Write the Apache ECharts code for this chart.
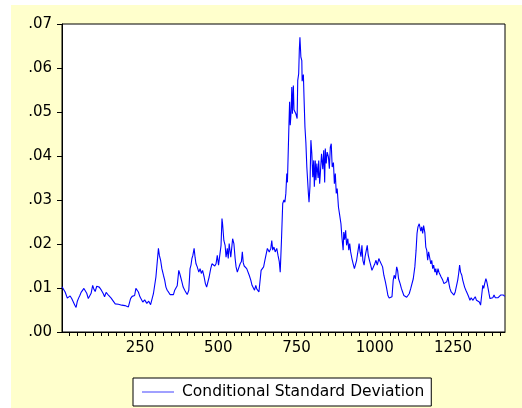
<!DOCTYPE html>
<html>
<head>
<meta charset="utf-8">
<script src="https://cdn.jsdelivr.net/npm/echarts@6/dist/echarts.min.js"></script>
<style>
html,body{margin:0;padding:0;background:#fff;}
#bg{position:absolute;left:11px;top:5px;width:511px;height:403px;background:#FFFFCC;}
#chart{position:absolute;left:0;top:0;width:522px;height:408px;}
</style>
</head>
<body>
<div id="bg"></div>
<div id="chart"></div>
<script>
const seriesName = 'Conditional Standard Deviation';
const xTickLabels = [250, 500, 750, 1000, 1250];
const yTickLabels = ['.00', '.01', '.02', '.03', '.04', '.05', '.06', '.07'];
const obsIndex = [1,3,11,18,27,32,37,42,46,50,54,58,62,66,71,75,80,85,90,94,99,103,107,112,117,120,125,129,133,137,142,146,150,154,158,163,167,171,176,181,186,192,197,202,208,213,216,220,225,229,233,237,241,245,250,256,259,261,265,272,278,284,288,293,298,301,305,309,312,316,320,325,329,333,337,342,346,351,357,361,365,369,374,377,380,384,388,393,397,401,406,410,413,416,419,423,426,429,433,438,442,446,450,455,459,463,467,471,476,480,484,489,493,497,501,506,509,512,514,518,522,525,529,532,535,540,543,546,550,554,557,561,565,570,574,577,580,583,588,591,596,599,604,608,612,616,620,623,626,630,633,637,641,645,649,653,657,660,663,668,671,674,678,682,687,691,695,698,702,706,710,713,716,719,721,724,726,728,730,732,734,735,737,738,740,742,745,748,752,754,757,759,761,764,767,768,772,774,777,780,783,788,790,793,796,799,802,805,807,810,812,815,819,821,824,827,830,834,837,840,842,845,848,852,855,858,861,864,868,871,874,877,880,884,887,889,892,895,899,901,904,907,910,914,917,920,923,927,931,935,938,942,946,950,953,956,959,962,966,969,972,976,979,983,987,991,995,1000,1004,1008,1013,1017,1021,1025,1029,1034,1038,1042,1046,1051,1055,1059,1062,1066,1070,1073,1076,1081,1085,1089,1093,1097,1102,1106,1110,1115,1119,1123,1128,1132,1135,1138,1142,1147,1150,1153,1156,1160,1163,1166,1169,1172,1176,1179,1182,1185,1188,1192,1195,1198,1202,1205,1209,1212,1217,1221,1225,1230,1234,1237,1240,1244,1249,1253,1257,1262,1265,1268,1271,1274,1278,1281,1284,1287,1291,1296,1300,1304,1308,1313,1317,1321,1325,1330,1334,1338,1341,1345,1348,1351,1355,1358,1362,1365,1368,1372,1377,1381,1385,1389,1394,1398,1402,1406,1411,1415];
const csd = [.0103,.0102,.0091,.0077,.0082,.0076,.0072,.0061,.0056,.0070,.0077,.0083,.0090,.0092,.0099,.0095,.0088,.0076,.0079,.0088,.0106,.0097,.0092,.0104,.0106,.0102,.0097,.0092,.0087,.0080,.0090,.0086,.0083,.0086,.0077,.0072,.0068,.0064,.0062,.0063,.0062,.0061,.0060,.0060,.0058,.0057,.0061,.0076,.0081,.0077,.0083,.0099,.0102,.0091,.0080,.0076,.0068,.0072,.0073,.0065,.0070,.0062,.0060,.0087,.0085,.0125,.0129,.0190,.0174,.0163,.0144,.0129,.0118,.0102,.0095,.0090,.0085,.0082,.0085,.0095,.0099,.0105,.0140,.0133,.0125,.0114,.0102,.0095,.0090,.0085,.0095,.0144,.0152,.0167,.0174,.0190,.0170,.0155,.0148,.0136,.0144,.0133,.0140,.0125,.0110,.0102,.0104,.0125,.0144,.0155,.0152,.0150,.0155,.0174,.0152,.0155,.0197,.0258,.0245,.0208,.0197,.0170,.0190,.0167,.0201,.0170,.0190,.0212,.0201,.0167,.0148,.0136,.0133,.0155,.0160,.0182,.0157,.0150,.0148,.0144,.0140,.0129,.0118,.0106,.0102,.0095,.0106,.0098,.0095,.0091,.0095,.0140,.0144,.0148,.0163,.0160,.0190,.0186,.0182,.0190,.0208,.0186,.0193,.0182,.0190,.0174,.0160,.0136,.0208,.0292,.0300,.0295,.0315,.0360,.0340,.0420,.0474,.0523,.0470,.0490,.0530,.0557,.0496,.0520,.0560,.0505,.0505,.0496,.0485,.0572,.0587,.0640,.0670,.0625,.0617,.0570,.0585,.0534,.0466,.0430,.0375,.0315,.0295,.0330,.0436,.0405,.0352,.0390,.0330,.0390,.0345,.0383,.0350,.0390,.0337,.0370,.0405,.0370,.0413,.0340,.0417,.0383,.0409,.0398,.0371,.0420,.0428,.0375,.0385,.0337,.0360,.0315,.0326,.0284,.0270,.0269,.0246,.0216,.0186,.0227,.0210,.0231,.0197,.0212,.0186,.0201,.0182,.0167,.0155,.0144,.0152,.0163,.0182,.0201,.0182,.0171,.0197,.0163,.0152,.0171,.0182,.0197,.0175,.0163,.0152,.0140,.0144,.0155,.0163,.0152,.0167,.0160,.0160,.0148,.0129,.0114,.0099,.0083,.0077,.0078,.0080,.0118,.0129,.0121,.0148,.0140,.0121,.0110,.0099,.0091,.0083,.0087,.0079,.0076,.0087,.0099,.0095,.0121,.0148,.0186,.0224,.0239,.0246,.0229,.0239,.0224,.0242,.0226,.0193,.0186,.0163,.0182,.0167,.0155,.0163,.0144,.0152,.0136,.0144,.0129,.0144,.0136,.0140,.0125,.0118,.0110,.0106,.0114,.0125,.0110,.0099,.0091,.0087,.0084,.0091,.0095,.0118,.0133,.0152,.0136,.0129,.0118,.0110,.0102,.0095,.0087,.0080,.0072,.0078,.0072,.0076,.0080,.0072,.0076,.0068,.0061,.0080,.0106,.0099,.0110,.0121,.0114,.0099,.0087,.0076,.0080,.0078,.0084,.0078,.0081,.0078,.0080,.0084,.0081,.0084,.0081];

const data = obsIndex.map((o, i) => [o, csd[i]]);
const minorTicks = [];
for (let t = 25; t <= 1400; t += 25) minorTicks.push(t);

const chart = echarts.init(document.getElementById('chart'), null, {renderer: 'canvas'});
const font = 'DejaVu Sans';
chart.setOption({
  backgroundColor: 'transparent',
  animation: false,
  grid: {left: 62, top: 24, right: 17, bottom: 76, show: true, backgroundColor: '#fff', borderColor: '#000', borderWidth: 1},
  xAxis: {
    type: 'value', min: 1, max: 1416,
    axisLine: {show: true, lineStyle: {color: '#000', width: 1}},
    axisTick: {show: true, inside: false, length: 4, customValues: minorTicks, lineStyle: {color: '#000'}},
    axisLabel: {customValues: xTickLabels, color: '#000', fontFamily: font, fontSize: 15, margin: 9,
      formatter: v => String(v)},
    splitLine: {show: false}
  },
  yAxis: {
    type: 'value', min: 0, max: 0.07, interval: 0.01,
    axisLine: {show: true, lineStyle: {color: '#000', width: 1}},
    axisTick: {show: true, inside: false, length: 5, lineStyle: {color: '#000'}},
    axisLabel: {color: '#000', fontFamily: font, fontSize: 15, margin: 10,
      formatter: v => yTickLabels[Math.round(v * 100)]},
    splitLine: {show: false}
  },
  legend: {
    show: true, left: 133, top: 378,
    padding: [6, 7, 6, 9],
    borderColor: '#000', borderWidth: 1, backgroundColor: '#fff', borderRadius: 0,
    itemWidth: 32, itemHeight: 1,
    textStyle: {color: '#000', fontFamily: font, fontSize: 15.5, padding: [0, 0, 0, 3], lineHeight: 14},
    data: [{name: seriesName, icon: 'rect', itemStyle: {color: '#4040FF'}}]
  },
  series: [{
    name: seriesName, type: 'line', data: data,
    symbol: 'none', showSymbol: false,
    lineStyle: {color: '#0000FF', width: 1.1},
    itemStyle: {color: '#0000FF'}
  }]
});
</script>
</body>
</html>
